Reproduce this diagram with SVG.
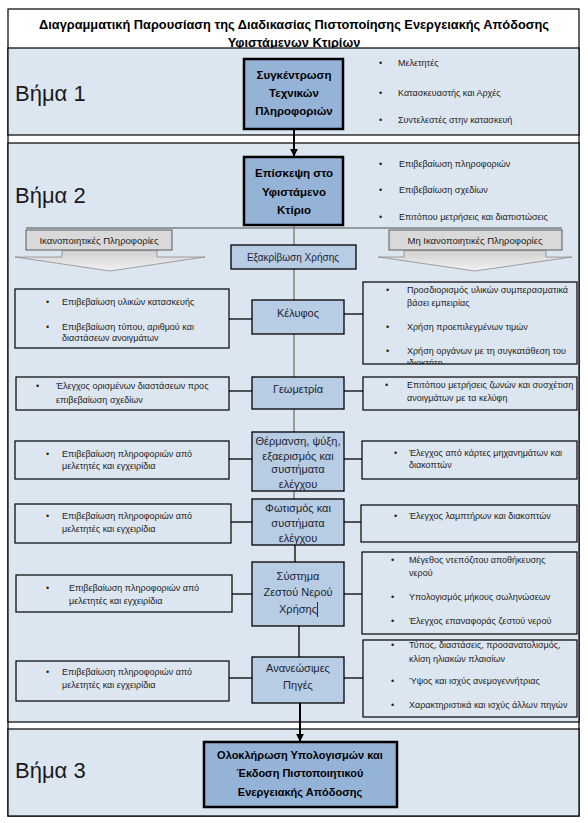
<svg xmlns="http://www.w3.org/2000/svg" width="588" height="823" viewBox="0 0 588 823">
<defs>
<style>
.band{fill:#dce6f1;stroke:#000;stroke-width:1.2}
.main{fill:#95b3d7;stroke:#000;stroke-width:2.5}
.cbox{fill:#b8cce4;stroke:#000;stroke-width:1.3}
.sbox{fill:#dce6f1;stroke:#000;stroke-width:1.2}
.ban{fill:#d9d9d9;stroke:#595959;stroke-width:1}
.chev{fill:url(#cg);stroke:#8c8c8c;stroke-width:0.8}
text{font-family:"Liberation Sans",Arial,sans-serif}
.tt{font-size:12.8px;font-weight:bold;text-anchor:middle;fill:#000}
.ts{font-size:22px;fill:#1a1a1a}
.tm{font-size:11.5px;font-weight:bold;text-anchor:middle;fill:#000}
.tc{font-size:11px;text-anchor:middle;fill:#1b2433}
.tb{font-size:9px;fill:#222}
.tban{font-size:9.5px;text-anchor:middle;fill:#222}
.g{stroke:#808080;stroke-width:1.5;fill:none}
.k{stroke:#000;stroke-width:1.3;fill:none}
.ka{stroke:#000;stroke-width:2;fill:none;marker-end:url(#ah)}
</style>
<linearGradient id="cg" x1="0" y1="0" x2="0" y2="1">
<stop offset="0" stop-color="#cfcfcf"/>
<stop offset="1" stop-color="#f2f2f2"/>
</linearGradient>
<marker id="ah" viewBox="0 0 10 10" refX="9" refY="5" markerWidth="4" markerHeight="4" orient="auto" markerUnits="strokeWidth">
<path d="M0,0 L10,5 L0,10 z" fill="#000"/>
</marker>
<clipPath id="clipK"><rect x="363" y="282" width="214" height="82"/></clipPath>
</defs>

<rect x="8" y="9" width="571" height="807" fill="#fff" stroke="#000" stroke-width="1.2"/>

<g id="title">
<text class="tt" x="294" y="29">Διαγραμματική Παρουσίαση της Διαδικασίας Πιστοποίησης Ενεργειακής Απόδοσης</text>
<text class="tt" x="294" y="47">Υφιστάμενων Κτιρίων</text>
</g>

<g id="bands">
<rect class="band" x="8" y="48" width="571" height="87"/>
<rect class="band" x="8" y="143" width="571" height="579"/>
<rect class="band" x="8" y="729" width="571" height="87"/>
<text class="ts" x="15" y="101">Βήμα 1</text>
<text class="ts" x="15" y="203">Βήμα 2</text>
<text class="ts" x="15" y="778">Βήμα 3</text>
</g>

<g id="connectors">
<line class="ka" x1="294" y1="129" x2="294" y2="156"/>
<line class="g" x1="294" y1="225" x2="294" y2="245"/>
<line class="g" x1="26" y1="228" x2="562" y2="228"/>
<line class="g" x1="294" y1="269" x2="294" y2="300"/>
<line class="g" x1="294" y1="334" x2="294" y2="377"/>
<line class="g" x1="294" y1="409" x2="294" y2="432"/>
<line class="g" x1="294" y1="491" x2="294" y2="499"/>
<line class="k" x1="295" y1="545" x2="295" y2="562"/>
<line class="k" x1="299" y1="626" x2="299" y2="657"/>
<line class="ka" x1="300" y1="703" x2="300" y2="741"/>
<line class="k" x1="229" y1="319" x2="252" y2="319"/>
<line class="k" x1="344" y1="314" x2="363" y2="314"/>
<line class="k" x1="229" y1="391" x2="252" y2="391"/>
<line class="k" x1="344" y1="391" x2="363" y2="391"/>
<line class="k" x1="229" y1="459" x2="252" y2="459"/>
<line class="k" x1="344" y1="459" x2="362" y2="459"/>
<line class="k" x1="231" y1="522" x2="252" y2="522"/>
<line class="k" x1="344" y1="522" x2="361" y2="522"/>
<line class="k" x1="232" y1="594" x2="252" y2="594"/>
<line class="k" x1="344" y1="594" x2="362" y2="594"/>
<line class="k" x1="229" y1="678" x2="252" y2="678"/>
<line class="k" x1="344" y1="678" x2="363" y2="678"/>
</g>

<g id="step1">
<rect class="main" x="244" y="59" width="99" height="70"/>
<text class="tm" x="294" y="79">Συγκέντρωση</text>
<text class="tm" x="294" y="97">Τεχνικών</text>
<text class="tm" x="294" y="115">Πληροφοριών</text>
</g>
<g id="step1-list">
<text class="tb" x="379" y="66">•</text><text class="tb" x="398" y="66">Μελετητές</text>
<text class="tb" x="379" y="96">•</text><text class="tb" x="398" y="96">Κατασκευαστής  και Αρχές</text>
<text class="tb" x="379" y="123">•</text><text class="tb" x="398" y="123">Συντελεστές στην κατασκευή</text>
</g>

<g id="step2">
<rect class="main" x="244" y="157" width="99" height="68"/>
<text class="tm" x="294" y="177">Επίσκεψη στο</text>
<text class="tm" x="294" y="196">Υφιστάμενο</text>
<text class="tm" x="294" y="214">Κτίριο</text>
</g>
<g id="step2-list">
<text class="tb" x="379" y="167">•</text><text class="tb" x="399" y="167">Επιβεβαίωση πληροφοριών</text>
<text class="tb" x="379" y="193">•</text><text class="tb" x="399" y="193">Επιβεβαίωση σχεδίων</text>
<text class="tb" x="379" y="220">•</text><text class="tb" x="399" y="220">Επιτόπου μετρήσεις και διαπιστώσεις</text>
</g>

<g id="sat">
<polygon class="chev" points="62,250 62,257 15,257 110,271 205,257 157,257 157,250"/>
<rect class="ban" x="26" y="230" width="146" height="20"/>
<text class="tban" x="99" y="244">Ικανοποιητικές Πληροφορίες</text>
</g>
<g id="unsat">
<polygon class="chev" points="404,250 404,257 378,257 475,271 572,257 546,257 546,250"/>
<rect class="ban" x="389" y="230" width="173" height="20"/>
<text class="tban" x="475" y="244">Μη Ικανοποιητικές Πληροφορίες</text>
</g>

<g id="use">
<rect class="cbox" x="231" y="245" width="125" height="24" stroke="#555"/>
<text class="tc" x="293" y="261" style="font-size:10px">Εξακρίβωση Χρήσης</text>
</g>

<g id="shell">
<rect class="sbox" x="15" y="289" width="214" height="59"/>
<text class="tb" x="46" y="305">•</text><text class="tb" x="62" y="305">Επιβεβαίωση υλικών κατασκευής</text>
<text class="tb" x="46" y="330">•</text><text class="tb" x="62" y="330">Επιβεβαίωση τύπου, αριθμού και</text>
<text class="tb" x="62" y="341">διαστάσεων ανοιγμάτων</text>
<rect class="cbox" x="252" y="300" width="92" height="34"/>
<text class="tc" x="298" y="317">Κέλυφος</text>
<g clip-path="url(#clipK)">
<text class="tb" x="386" y="293">•</text><text class="tb" x="407" y="293">Προσδιορισμός υλικών συμπερασματικά</text>
<text class="tb" x="407" y="306">βάσει εμπειρίας</text>
<text class="tb" x="386" y="330">•</text><text class="tb" x="407" y="330">Χρήση προεπιλεγμένων τιμών</text>
<text class="tb" x="386" y="354">•</text><text class="tb" x="407" y="354">Χρήση οργάνων με τη συγκατάθεση του</text>
<text class="tb" x="407" y="366">ιδιοκτήτη</text>
</g>
<rect class="sbox" x="363" y="282" width="214" height="82" style="fill:none"/>
</g>

<g id="geometry">
<rect class="sbox" x="16" y="377" width="213" height="33"/>
<text class="tb" x="36" y="389">•</text><text class="tb" x="56" y="389">Έλεγχος ορισμένων διαστάσεων προς</text>
<text class="tb" x="56" y="403">επιβεβαίωση σχεδίων</text>
<rect class="cbox" x="252" y="377" width="92" height="32"/>
<text class="tc" x="298" y="393">Γεωμετρία</text>
<rect class="sbox" x="363" y="377" width="214" height="33"/>
<text class="tb" x="385" y="388">•</text><text class="tb" x="407" y="388">Επιτόπου μετρήσεις ζωνών και συσχέτιση</text>
<text class="tb" x="407" y="401">ανοιγμάτων με τα κελύφη</text>
</g>

<g id="hvac">
<rect class="sbox" x="15" y="441" width="214" height="38"/>
<text class="tb" x="46" y="457">•</text><text class="tb" x="62" y="457">Επιβεβαίωση πληροφοριών από</text>
<text class="tb" x="62" y="469">μελετητές και εγχειρίδια</text>
<rect class="cbox" x="252" y="432" width="92" height="59"/>
<text class="tc" x="298" y="445">Θέρμανση, ψύξη,</text>
<text class="tc" x="298" y="460">εξαερισμός και</text>
<text class="tc" x="298" y="473">συστήματα</text>
<text class="tc" x="298" y="488">ελέγχου</text>
<rect class="sbox" x="362" y="441" width="215" height="38"/>
<text class="tb" x="394" y="456">•</text><text class="tb" x="409" y="456">Έλεγχος από κάρτες μηχανημάτων και</text>
<text class="tb" x="409" y="468">διακοπτών</text>
</g>

<g id="lighting">
<rect class="sbox" x="15" y="504" width="216" height="39"/>
<text class="tb" x="46" y="519">•</text><text class="tb" x="62" y="519">Επιβεβαίωση πληροφοριών από</text>
<text class="tb" x="62" y="532">μελετητές και εγχειρίδια</text>
<rect class="cbox" x="252" y="499" width="92" height="46"/>
<text class="tc" x="298" y="512">Φωτισμός και</text>
<text class="tc" x="298" y="527">συστήματα</text>
<text class="tc" x="298" y="542">ελέγχου</text>
<rect class="sbox" x="361" y="505" width="216" height="37"/>
<text class="tb" x="394" y="519">•</text><text class="tb" x="409" y="519">Έλεγχος λαμπτήρων και διακοπτών</text>
</g>

<g id="dhw">
<rect class="sbox" x="16" y="575" width="216" height="37"/>
<text class="tb" x="46" y="591">•</text><text class="tb" x="69" y="591">Επιβεβαίωση πληροφοριών από</text>
<text class="tb" x="69" y="604">μελετητές και εγχειρίδια</text>
<rect class="cbox" x="252" y="562" width="92" height="64"/>
<text class="tc" x="298" y="580">Σύστημα</text>
<text class="tc" x="298" y="596">Ζεστού Νερού</text>
<text class="tc" x="298" y="613">Χρήσης</text>
<line x1="317.5" y1="602" x2="317.5" y2="617" stroke="#000" stroke-width="0.8"/>
<rect class="sbox" x="362" y="552" width="215" height="82"/>
<text class="tb" x="391" y="563">•</text><text class="tb" x="409" y="563">Μέγεθος ντεπόζιτου αποθήκευσης</text>
<text class="tb" x="409" y="576">νερού</text>
<text class="tb" x="391" y="600">•</text><text class="tb" x="409" y="600">Υπολογισμός μήκους σωληνώσεων</text>
<text class="tb" x="391" y="624">•</text><text class="tb" x="409" y="624">Έλεγχος επαναφοράς ζεστού νερού</text>
</g>

<g id="renewables">
<rect class="sbox" x="16" y="661" width="213" height="40"/>
<text class="tb" x="46" y="675">•</text><text class="tb" x="62" y="675">Επιβεβαίωση πληροφοριών από</text>
<text class="tb" x="62" y="688">μελετητές και εγχειρίδια</text>
<rect class="cbox" x="252" y="657" width="92" height="46"/>
<text class="tc" x="298" y="672">Ανανεώσιμες</text>
<text class="tc" x="298" y="689">Πηγές</text>
<rect class="sbox" x="363" y="640" width="214" height="77"/>
<text class="tb" x="391" y="648">•</text><text class="tb" x="409" y="648">Τύπος, διαστάσεις, προσανατολισμός,</text>
<text class="tb" x="409" y="662">κλίση ηλιακών πλαισίων</text>
<text class="tb" x="391" y="684">•</text><text class="tb" x="409" y="684">Ύψος και ισχύς ανεμογεννήτριας</text>
<text class="tb" x="391" y="708">•</text><text class="tb" x="409" y="708">Χαρακτηριστικά και ισχύς άλλων πηγών</text>
</g>

<g id="step3">
<rect class="main" x="204" y="742" width="193" height="65"/>
<text class="tm" x="300" y="759" style="font-size:11px">Ολοκλήρωση Υπολογισμών και</text>
<text class="tm" x="300" y="777" style="font-size:11px">Έκδοση Πιστοποιητικού</text>
<text class="tm" x="300" y="796" style="font-size:11px">Ενεργειακής Απόδοσης</text>
</g>
</svg>
